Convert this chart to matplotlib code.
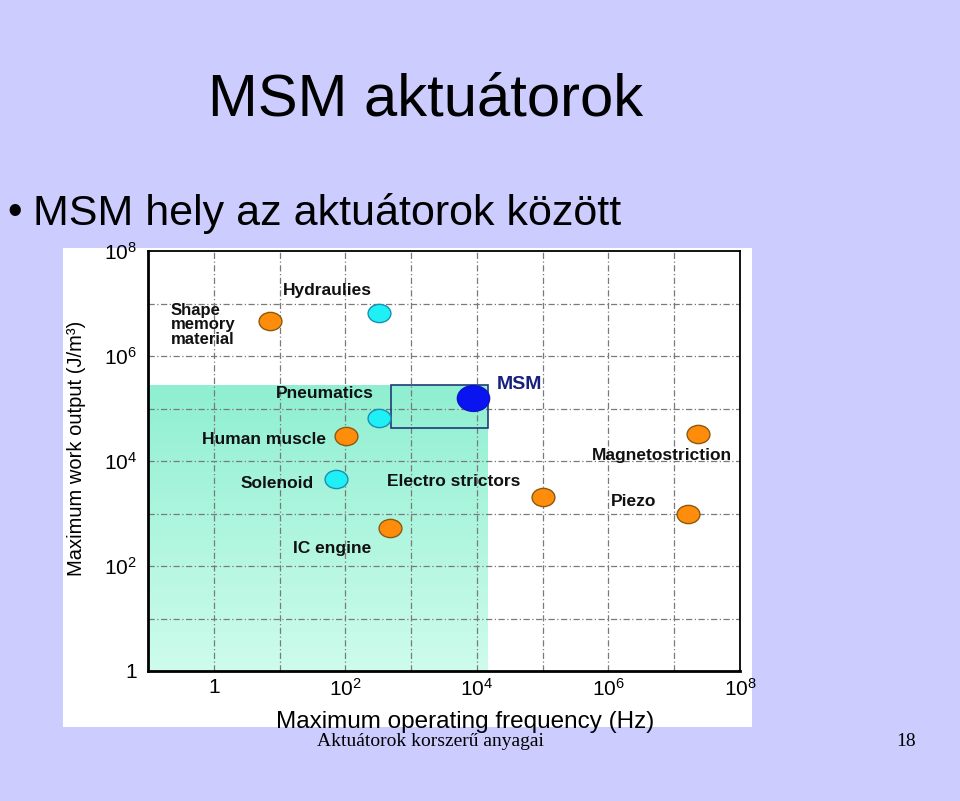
import numpy as np
import matplotlib
matplotlib.use("Agg")
import matplotlib.pyplot as plt
from matplotlib.colors import LinearSegmentedColormap
from matplotlib.markers import MarkerStyle
from matplotlib.path import Path
from matplotlib.patches import Rectangle

plt.rcParams['font.family'] = ['Liberation Sans', 'DejaVu Sans']
plt.rcParams['mathtext.fontset'] = 'custom'
plt.rcParams['mathtext.rm'] = 'Liberation Sans'
plt.rcParams['mathtext.it'] = 'Liberation Sans:italic'
plt.rcParams['mathtext.bf'] = 'Liberation Sans:bold'

# actuators: max operating frequency (Hz) vs max work output (J/m3)
names = ["Shape memory", "Hydraulics", "Pneumatics", "Human muscle", "Solenoid",
         "IC engine", "MSM", "Electro strictors", "Piezo", "Magnetostriction"]
freq = [7.1, 330, 330, 102, 72, 470, 8700, 1.0e5, 1.6e7, 2.3e7]
work = [4.7e6, 6.6e6, 6.6e4, 3.0e4, 4.6e3, 525, 1.6e5, 2.1e3, 1.0e3, 3.2e4]
kind = ["orange", "cyan", "cyan", "orange", "cyan",
        "orange", "blue", "orange", "orange", "orange"]

# label text and where it sits
label_text = ["Shape\nmemory\nmaterial", "Hydraulies", "Pneumatics", "Human muscle",
              "Solenoid", "IC engine", "MSM", "Electro strictors", "Piezo",
              "Magnetostriction"]
label_x = [0.22, 53, 49, 5.8, 9.1, 62, 4.5e4, 4.5e3, 2.4e6, 6.6e6]
label_y = [3.9e6, 1.8e7, 1.9e5, 2.6e4, 3.8e3, 220, 2.9e5, 4.0e3, 1.7e3, 1.25e4]

# shaded region and MSM box
region_x = [0.1, 1.5e4]
region_y = [1, 2.8e5]
box_x = [500, 1.5e4]
box_y = [4.3e4, 2.8e5]

xticks = [1, 1e2, 1e4, 1e6, 1e8]
yticks = [1, 1e2, 1e4, 1e6, 1e8]
xticklabels = ["1", r"$10^2$", r"$10^4$", r"$10^6$", r"$10^8$"]
yticklabels = ["1", r"$10^2$", r"$10^4$", r"$10^6$", r"$10^8$"]

face = {"orange": "#FF8C0A", "cyan": "#1FF0F5", "blue": "#0A14F0"}
edge = {"orange": "#8A5A10", "cyan": "#1A8FB0", "blue": "#0A14C8"}
size = {"orange": 270, "cyan": 270, "blue": 540}

fig = plt.figure(figsize=(9.6, 8.01), dpi=100)
fig.patch.set_facecolor("#CCCCFF")

# white picture background
fig.patches.append(Rectangle((63 / 960, 1 - 727 / 801), (752 - 63) / 960, (727 - 248) / 801,
                             transform=fig.transFigure, facecolor="white", edgecolor="none", zorder=-5))

fig.text(0.443, 1 - 100 / 801, "MSM aktuátorok", fontsize=43, ha="center", va="center")
fig.text(0.008, 1 - 213 / 801, "•", fontsize=30, ha="left", va="center")
fig.text(0.034, 1 - 213 / 801, "MSM hely az aktuátorok között", fontsize=31, ha="left", va="center")
fig.text(0.33, 1 - 741 / 801, "Aktuátorok korszerű anyagai", fontsize=14, ha="left", va="center",
         family="Liberation Serif")
fig.text(0.934, 1 - 741 / 801, "18", fontsize=14, ha="left", va="center", family="Liberation Serif")

ax = fig.add_axes([148 / 960, 130 / 801, 592 / 960, 420 / 801])
ax.set_facecolor("white")
ax.set_xscale("log")
ax.set_yscale("log")
ax.set_xlim(0.1, 1e8)
ax.set_ylim(1, 1e8)

# green gradient region
cmap = LinearSegmentedColormap.from_list("aqua", ["#CDFBEC", "#8FEFD0"])
gx = np.array(region_x)
gy = np.logspace(np.log10(region_y[0]), np.log10(region_y[1]), 60)
vals = np.linspace(0, 1, len(gy) - 1).reshape(-1, 1)
ax.pcolormesh(gx, gy, vals, cmap=cmap, shading="flat", zorder=0)

ax.add_patch(Rectangle((box_x[0], box_y[0]), box_x[1] - box_x[0], box_y[1] - box_y[0],
                       facecolor="none", edgecolor="#1F3C78", linewidth=1.2, zorder=2))

# dash-dot grid at every decade
for d in range(0, 8):
    ax.axvline(10.0 ** d, color="#7A7A7A", lw=0.9, ls=(0, (5, 2, 1, 2)), zorder=1)
for d in range(1, 8):
    ax.axhline(10.0 ** d, color="#7A7A7A", lw=0.9, ls=(0, (5, 2, 1, 2)), zorder=1)

# flattened circle marker
circ = Path.unit_circle()
oval = Path(circ.vertices * np.array([1.0, 0.8]), circ.codes)
mk = MarkerStyle(oval)

for f, w, k in zip(freq, work, kind):
    ax.scatter(f, w, s=size[k], marker=mk, facecolor=face[k], edgecolor=edge[k],
               linewidth=1.0, zorder=4)

for t, lx, ly in zip(label_text, label_x, label_y):
    if t.startswith("Shape"):
        ax.text(lx, ly, t, fontsize=12, fontweight="bold", ha="left", va="center",
                linespacing=0.98, color="#111111", zorder=5)
    elif t == "MSM":
        ax.text(lx, ly, t, fontsize=14, fontweight="bold", ha="center", va="center",
                color="#17207A", zorder=5)
    else:
        ax.text(lx, ly, t, fontsize=12.5, fontweight="bold", ha="center", va="center",
                color="#111111", zorder=5)

ax.set_xticks(xticks)
ax.set_xticklabels(xticklabels)
ax.set_yticks(yticks)
ax.set_yticklabels(yticklabels)
ax.minorticks_off()
ax.tick_params(axis="x", length=0, labelsize=15, pad=5)
ax.tick_params(axis="y", length=0, labelsize=15, pad=8)

for s in ax.spines.values():
    s.set_color("black")
    s.set_linewidth(1.3)
ax.spines["left"].set_linewidth(2)
ax.spines["bottom"].set_linewidth(2)

ax.set_xlabel("Maximum operating frequency (Hz)", fontsize=17.5)
ax.xaxis.set_label_coords(0.535, -0.095)
ax.set_ylabel("Maximum work output (J/m³)", fontsize=14.5)
ax.yaxis.set_label_coords(-0.105, 0.53)

fig.savefig("out.png", dpi=100, facecolor=fig.get_facecolor())
